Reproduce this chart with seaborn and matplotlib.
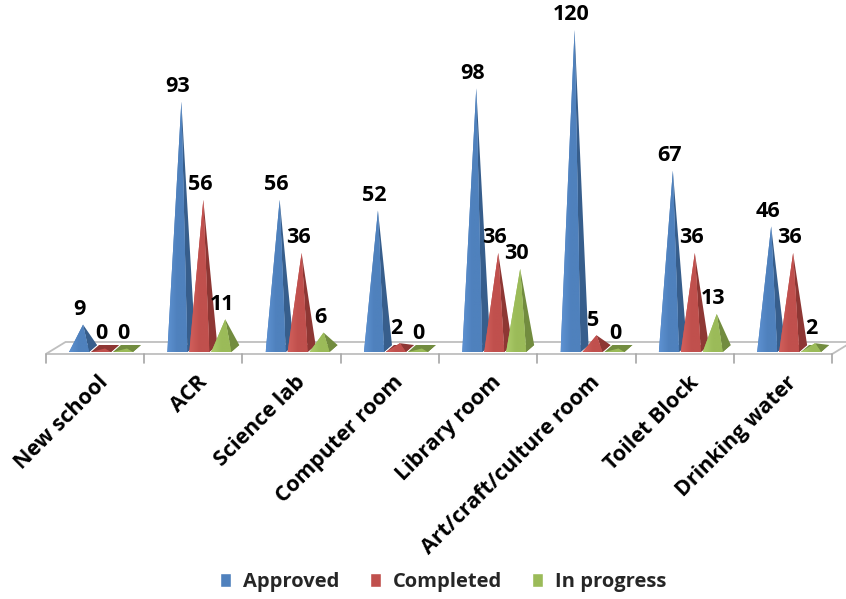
import matplotlib
matplotlib.use("Agg")
import matplotlib.pyplot as plt
import numpy as np
import pandas as pd
import seaborn as sns
from matplotlib.colors import LinearSegmentedColormap
from matplotlib.patches import Polygon

categories = ["New school", "ACR", "Science lab", "Computer room", "Library room",
              "Art/craft/culture room", "Toilet Block", "Drinking water"]
approved = [9, 93, 56, 52, 98, 120, 67, 46]
completed = [0, 56, 36, 2, 36, 5, 36, 36]
in_progress = [0, 11, 6, 0, 30, 0, 13, 2]
series = ["Approved", "Completed", "In progress"]

front_colors = ["#4F81BD", "#C0504D", "#9BBB59"]
light_colors = ["#5E92D2", "#D2605C", "#AECD6C"]
side_colors = ["#375E8C", "#8E3734", "#728C3F"]

df = pd.DataFrame({
    "category": categories * 3,
    "status": np.repeat(series, len(categories)),
    "value": approved + completed + in_progress,
})

sns.set_theme(style="white")
plt.rcParams["font.family"] = ["Open Sans", "DejaVu Sans"]

fig = plt.figure(figsize=(8.46, 5.99), dpi=100)
ax = fig.add_axes([0, 0, 1, 1])

sns.barplot(data=df, x="category", y="value", hue="status", hue_order=series,
            palette=front_colors, saturation=1, width=0.67, ax=ax)

# unit sizes of one screen pixel along each axis
PX = 1 / 98.3
PY = 1 / 2.654
xlim = (-95 * PX, (846 - 95) * PX)
ylim = ((352 - 599) * PY, 352 * PY)
ax.axis("off")

depth_x = 0.112          # half the floor depth, horizontally
base_depth = 7 * PY      # visible depth of a pyramid base
mid_y = base_depth / 2

# floor plate
n = len(categories)
x0, x1 = -0.5, n - 0.5
fy, by = -0.75, 3.77
floor = Polygon([(x0, fy), (x1, fy), (x1 + 0.2, by), (x0 + 0.2, by)], closed=True,
                facecolor="white", edgecolor="#BFBFBF", lw=1.3, zorder=1)
ax.add_patch(floor)
for t in np.arange(x0, x1 + 0.01, 1.0):
    ax.plot([t, t], [fy, -4.1], color="#A6A6A6", lw=1.2, zorder=1)

gradient = np.linspace(0, 1, 64).reshape(1, -1)

# turn each bar into a shaded pyramid standing on the floor
for k, cont in enumerate(ax.containers):
    cmap = LinearSegmentedColormap.from_list(
        f"face{k}", [light_colors[k], front_colors[k], front_colors[k]])
    for bar in cont:
        h = bar.get_height()
        c = bar.get_x() + bar.get_width() / 2 + depth_x
        bar.set_visible(False)
        fl = (c - 15 * PX, 0)
        fr = (c + 5 * PX, 0)
        br = (c + 13 * PX, base_depth)
        bl = (c - 7 * PX, base_depth)
        apex = (c - 1 * PX, mid_y + h)
        z = 2 + k
        ax.add_patch(Polygon([fl, fr, br, bl], closed=True, facecolor=side_colors[k],
                             edgecolor="none", zorder=z))
        ax.add_patch(Polygon([fr, br, apex], closed=True, facecolor=side_colors[k],
                             edgecolor="none", zorder=z))
        face = Polygon([fl, fr, apex], closed=True, facecolor=front_colors[k],
                       edgecolor="none", zorder=z)
        ax.add_patch(face)
        if h > 0:
            img = ax.imshow(gradient, cmap=cmap, aspect="auto", interpolation="bilinear",
                            extent=(fl[0], fr[0], 0, mid_y + h), zorder=z + 0.01)
            img.set_clip_path(face)
        ax.text(c - 0.045, mid_y + h + 3.6, f"{h:g}", ha="center", va="baseline",
                fontsize=15.5, fontweight="bold", color="black", zorder=10)

ax.set_xlim(*xlim)
ax.set_ylim(*ylim)
ax.set_aspect("auto")

# category labels
for i, name in enumerate(categories):
    ax.text(i + 0.03, -7.5, name, rotation=45, rotation_mode="anchor",
            ha="right", va="top", fontsize=15.5, fontweight="bold", color="black")

sns.move_legend(ax, "center", bbox_to_anchor=(0.524, 0.028), ncol=3, frameon=False,
                title=None, prop={"weight": "bold", "size": 14.5},
                handlelength=0.55, handleheight=0.7, columnspacing=1.5,
                handletextpad=0.6)

fig.savefig("out.png", dpi=100)
